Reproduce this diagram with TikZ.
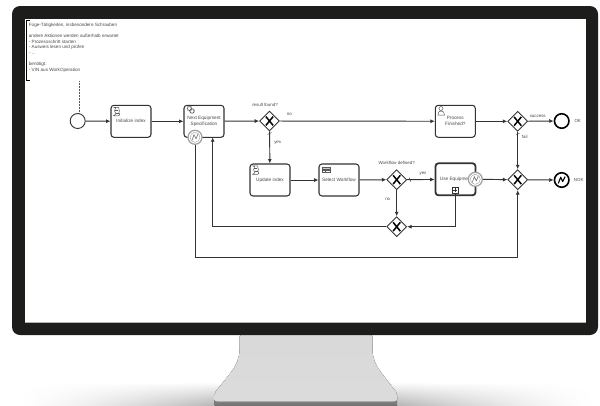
\documentclass[tikz,border=0pt]{standalone}
\usepackage{fontspec}
\setmainfont{Liberation Sans}
\usetikzlibrary{shapes.geometric,arrows.meta,calc}
\definecolor{bez}{HTML}{1D1D1B}
\definecolor{ln}{HTML}{333333}
\definecolor{txt}{HTML}{4A4A4A}
\tikzset{
  task/.style={draw=ln,line width=1.05pt,rounded corners=3pt,fill=white,minimum width=40pt,minimum height=32pt,inner sep=0pt,align=center,font=\fontsize{4.7}{6.2}\selectfont,text=txt},
  gateway/.style={diamond,draw=ln,line width=0.9pt,fill=white,minimum size=20pt,inner sep=0pt,
    path picture={\draw[line width=1.5pt,black] ($(path picture bounding box.center)+(-3.6,-4.4)$) -- ($(path picture bounding box.center)+(3.6,4.4)$) ($(path picture bounding box.center)+(3.6,-4.4)$) -- ($(path picture bounding box.center)+(-3.6,4.4)$);}},
  event/.style={circle,draw=ln,line width=0.9pt,fill=white,minimum size=15pt,inner sep=0pt},
  endevent/.style={circle,draw=black,line width=1.6pt,fill=white,minimum size=14.5pt,inner sep=0pt},
  timer/.style={circle,draw=gray!75,line width=1.2pt,fill=white,minimum size=14pt,inner sep=0pt},
  flow/.style={draw=ln,line width=0.95pt,-{Latex[length=4.4pt,width=4pt]}},
  lab/.style={inner sep=0pt,font=\fontsize{4.4}{5.5}\selectfont,text=txt},
  icon/.style={draw=gray!70!black,line width=0.5pt},
}
\begin{document}
\begin{tikzpicture}[x=1pt,y=-1pt]
\useasboundingbox (0,0) rectangle (600,405);
\fill[white] (0,0) rectangle (600,405);
% floor shadow, strip by strip
\foreach \i in {0,1,...,52}{
  \pgfmathsetmacro{\xa}{15+4*\i}
  \pgfmathsetmacro{\lv}{30*(\i/52)^1.4}
  \fill[top color=white,bottom color=black!\lv] (\xa,382) rectangle (\xa+4.4,405);
  \pgfmathsetmacro{\xb}{598-4*\i-4.4}
  \fill[top color=white,bottom color=black!\lv] (\xb,382) rectangle (\xb+4.4,405);
}
% stand
\fill[top color=black!45,bottom color=black!55] (214.5,398) rectangle (397,405);
\fill[white] (218,401) rectangle (393,402.2);
\fill[shading=axis,top color=black!15,middle color=black!32,bottom color=black!14,rounded corners=2pt]
  (239.5,335) -- (239.5,348) .. controls (239.5,358) and (236,365) .. (232,371) -- (214.5,393) -- (214.5,401.5) -- (397,401.5) -- (397,393) -- (380,371) .. controls (376,365) and (372.5,358) .. (372.5,348) -- (372.5,335) -- cycle;
% monitor
\fill[bez,rounded corners=8pt] (12,6) rectangle (598,335);
\fill[white] (25,18.5) rectangle (585.5,322.5);
\draw[gray!60,line width=0.4pt] (25,322.5) -- (585.5,322.5);
% annotation
\draw[black,line width=0.9pt] (30,20) -- (26,20) -- (26,80.7) -- (30,80.7);
\node[lab,anchor=north west,align=left,font=\fontsize{4.6}{5.7}\selectfont] (note) at (28.7,22.5) {Füge-Tätigkeiten, insbesondere Schrauben\\[5.7pt]andere Aktionen werden außerhalb erwartet\\- Prozessschritt starten\\- Ausweis lesen und prüfen\\- ...\\[5.7pt]benötigt:\\- VIN aus WorkOperation};
\coordinate (annb) at (79,81);
% nodes
\node[event] (start) at (77.7,121) {};
\node[task] (init) at (131,121.3) {Initialize index};
\node[task] (next) at (204,121.3) {Next Equipment\\Specification};
\node[gateway] (gw1) at (269.5,121) {};
\node[task] (update) at (270,180) {Update index};
\node[task] (select) at (339,180) {Select Workflow};
\node[gateway] (gw2) at (396.7,179.7) {};
\node[gateway] (gw3) at (396.7,226.7) {};
\node[task,line width=1.8pt] (use) at (455.5,179.3) {\hspace*{-3pt}Use Equipme};
\node[task] (proc) at (455.3,121.3) {Process\\Finished?};
\node[gateway] (gw4) at (517.7,121.3) {};
\node[gateway] (gw5) at (517.7,179.7) {};
\node[endevent] (ok) at (561.7,121) {};
\node[endevent] (nok) at (561.7,180) {};
\node[timer] (t1) at (195,137.3) {};
\node[timer] (t2) at (475.3,179.3) {};
\node[draw=ln,line width=0.5pt,fill=white,minimum size=6pt,inner sep=0pt] (exp) at (455,190) {};
\coordinate (nextin) at (212.7,137.3);
\coordinate (lowrun) at (195,257.7);
% marker details
\draw[ln,line width=0.5pt] (452.8,190) -- (457.2,190) (455,187.8) -- (455,192.2);
\foreach \c in {t1,t2}{
  \draw[gray!75,line width=0.4pt] (\c) circle (5pt);
  \draw[gray!90!black,line width=0.6pt] ($(\c)+(-3,3.2)$) -- ($(\c)+(-1,-2.6)$) -- ($(\c)+(1,1.5)$) -- ($(\c)+(3,-3.2)$);
}
\draw[black,line width=1.1pt,line join=round] ($(nok)+(-3.4,3.4)$) -- ($(nok)+(-1,-2.8)$) -- ($(nok)+(1,1.6)$) -- ($(nok)+(3.4,-3.4)$);
% task icons
\foreach \c in {init,update}{
  \draw[icon] ($(\c.north west)+(3.5,2.5)$) .. controls +(4,0.5) and +(-3,-2) .. ($(\c.north west)+(5,8)$) .. controls +(2,2) and +(-3,0) .. ($(\c.north west)+(4,11)$) -- +(4,0) .. controls +(3,-1) and +(-2,2) .. ($(\c.north west)+(9,6)$) .. controls +(-2,-3) and +(2,0) .. ($(\c.north west)+(8,2.5)$) -- cycle;
  \draw[icon] ($(\c.north west)+(5,5)$) -- +(3,0) ($(\c.north west)+(6,8)$) -- +(3,0);
}
\draw[icon,line width=1pt,dash pattern=on 1pt off 0.6pt] (189.5,108.5) circle (2.2pt);
\draw[icon,line width=1pt,dash pattern=on 1pt off 0.6pt] (192,111) circle (2.2pt);
\draw[icon,fill=gray!45] (322,167) rectangle (330.5,172.5);
\draw[icon,fill=white] (322,169) rectangle (330.5,172.5);
\draw[icon] (325,169) -- (325,172.5) (322,170.7) -- (330.5,170.7);
\draw[icon] (441,108.5) circle (2pt);
\draw[icon] (438,115) .. controls (438,112) and (439,111) .. (441,111) .. controls (443,111) and (444.5,112) .. (444.5,115) -- cycle;
% flows
\draw[flow] (start) -- (init);
\draw[flow] (init) -- (next);
\draw[flow] (next) -- (gw1);
\draw[flow] (gw1) -- (proc);
\draw[flow] (proc) -- (gw4);
\draw[flow] (gw4) -- (ok);
\draw[flow] (gw4) -- (gw5);
\draw[flow] (gw1) -- (update);
\draw[flow] (update) -- (select);
\draw[flow] (select) -- (gw2);
\draw[flow] (gw2) -- (use);
\draw[flow] (gw2) -- (gw3);
\draw[flow] (exp.south) |- (gw3.east);
\draw[flow] (t2) -- (gw5);
\draw[flow] (gw5) -- (nok);
\draw[flow] (gw3.west) -| (nextin);
\draw[flow] (t1.south) |- (lowrun -| gw5.south) -- (gw5.south);
\draw[gray!70!black,line width=0.5pt,densely dotted] (annb) -- (annb |- start.north);
% default-flow ticks
\draw[ln,line width=0.4pt] (267.5,134.5) -- (271.5,132.5);
\draw[ln,line width=0.4pt] (515.7,135) -- (519.7,133);
\draw[ln,line width=0.4pt] (409,177.5) -- (411,182);
% labels
\node[lab] (l1) at (265,105) {result found?};
\node[lab] (l2) at (289.3,114) {no};
\node[lab] (l3) at (277.7,142.7) {yes};
\node[lab] (l4) at (396.7,163) {Workflow defined?};
\node[lab] (l5) at (423,173.7) {yes};
\node[lab] (l6) at (387.7,199.3) {no};
\node[lab] (l7) at (537.7,116.7) {success};
\node[lab] (l8) at (524.7,136.7) {fail};
\node[lab] (l9) at (577.7,121) {OK};
\node[lab] (l10) at (578.7,180) {NOK};
\end{tikzpicture}
\end{document}
